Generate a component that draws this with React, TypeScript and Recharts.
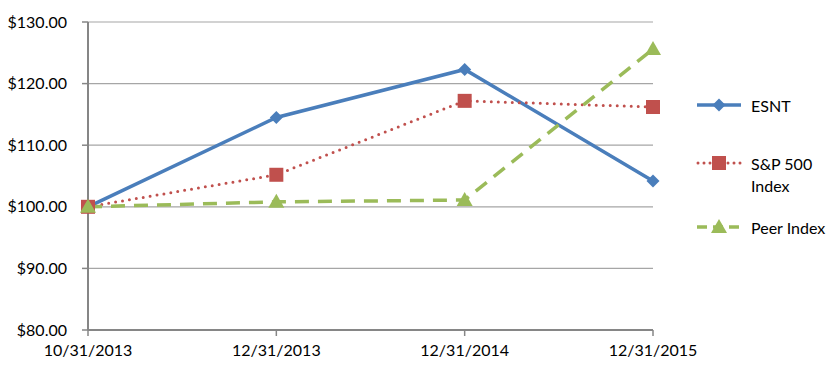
import { LineChart, Line, XAxis, YAxis, CartesianGrid } from "recharts";

const dates = ["10/31/2013", "12/31/2013", "12/31/2014", "12/31/2015"];
const esnt = [100, 114.5, 122.3, 104.2];
const sp500 = [100, 105.2, 117.2, 116.2];
const peer = [100, 100.8, 101.1, 125.6];
const yTicks = [80, 90, 100, 110, 120, 130];

const BLUE = "#4a7ebb";
const RED = "#c0504d";
const GREEN = "#9bbb59";
const FONT = "Lato, 'Open Sans', sans-serif";

const data = dates.map((d, i) => ({ date: d, esnt: esnt[i], sp: sp500[i], peer: peer[i] }));

function Diamond({ cx, cy }: any) {
  if (cx == null || cy == null) return null;
  const r = 6.5;
  return <path d={`M${cx},${cy - r}L${cx + r},${cy}L${cx},${cy + r}L${cx - r},${cy}Z`} fill={BLUE} />;
}

function Square({ cx, cy }: any) {
  if (cx == null || cy == null) return null;
  return <rect x={cx - 7} y={cy - 7} width={14} height={14} fill={RED} />;
}

function Triangle({ cx, cy }: any) {
  if (cx == null || cy == null) return null;
  return <path d={`M${cx},${cy - 8}L${cx + 8},${cy + 6}L${cx - 8},${cy + 6}Z`} fill={GREEN} />;
}

// legend drawn beside the chart, like the Excel original
function LegendBox() {
  const row = (top: number, icon: any, label: any) => (
    <div style={{ position: "absolute", top, left: 0, display: "flex", alignItems: "flex-start" }}>
      <svg width={50} height={20} style={{ marginTop: 0 }}>{icon}</svg>
      <div style={{ marginLeft: 6, lineHeight: "22px" }}>{label}</div>
    </div>
  );
  return (
    <div style={{ position: "absolute", top: 95, left: 695, width: 140, height: 160, fontFamily: FONT, fontSize: 16, color: "#000" }}>
      {row(
        0,
        <g>
          <line x1={2} y1={10} x2={46} y2={10} stroke={BLUE} strokeWidth={3.5} />
          <Diamond cx={24} cy={10} />
        </g>,
        "ESNT"
      )}
      {row(
        58,
        <g>
          <line x1={3} y1={10} x2={46} y2={10} stroke={RED} strokeWidth={3} strokeDasharray="0 6" strokeLinecap="round" />
          <Square cx={24} cy={10} />
        </g>,
        <span>S&amp;P 500<br />Index</span>
      )}
      {row(
        122,
        <g>
          <line x1={2} y1={10} x2={46} y2={10} stroke={GREEN} strokeWidth={3.5} strokeDasharray="10 6" />
          <Triangle cx={24} cy={10} />
        </g>,
        "Peer Index"
      )}
    </div>
  );
}

export default function App() {
  const tick = { fill: "#000", fontSize: 16, fontFamily: FONT };
  return (
    <div style={{ position: "absolute", top: 0, left: 0, width: 835, height: 378, background: "#fff" }}>
      <LineChart width={835} height={378} data={data} margin={{ top: 22, right: 182, left: 8, bottom: 18 }}>
        <CartesianGrid vertical={false} stroke="#a6a6a6" strokeWidth={1.2} />
        <XAxis
          dataKey="date"
          tick={tick}
          tickSize={6}
          tickMargin={9}
          height={30}
          axisLine={{ stroke: "#868686", strokeWidth: 2 }}
          tickLine={{ stroke: "#868686", strokeWidth: 1.5 }}
          interval={0}
        />
        <YAxis
          domain={[80, 130]}
          ticks={yTicks}
          width={80}
          tick={tick}
          tickSize={6}
          tickMargin={15}
          tickFormatter={(v) => `$${Number(v).toFixed(2)}`}
          axisLine={{ stroke: "#868686", strokeWidth: 2 }}
          tickLine={{ stroke: "#868686", strokeWidth: 1.5 }}
          interval={0}
        />
        <Line
          dataKey="esnt"
          stroke={BLUE}
          strokeWidth={3.5}
          dot={<Diamond />}
          activeDot={false}
          isAnimationActive={false}
        />
        <Line
          dataKey="sp"
          stroke={RED}
          strokeWidth={3}
          strokeDasharray="0 7"
          strokeLinecap="round"
          dot={<Square />}
          activeDot={false}
          isAnimationActive={false}
        />
        <Line
          dataKey="peer"
          stroke={GREEN}
          strokeWidth={3.5}
          strokeDasharray="14 9"
          dot={<Triangle />}
          activeDot={false}
          isAnimationActive={false}
        />
      </LineChart>
      <LegendBox />
    </div>
  );
}
